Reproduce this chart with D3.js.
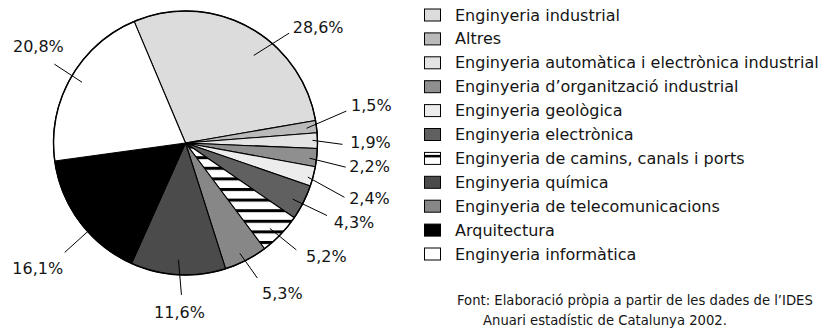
<!DOCTYPE html>
<html>
<head>
<meta charset="utf-8">
<script src="https://cdn.jsdelivr.net/npm/d3@7/dist/d3.min.js"></script>
<style>
  html, body { margin: 0; padding: 0; background: #fff; }
  svg { display: block; }
  text { font-family: "DejaVu Sans", sans-serif; fill: #151515; }
</style>
</head>
<body>
<svg id="chart" width="829" height="332"></svg>
<script>
// Titulats per estudis (percentatge sobre el total)
const categories = [
  "Enginyeria industrial",
  "Altres",
  "Enginyeria automàtica i electrònica industrial",
  "Enginyeria d’organització industrial",
  "Enginyeria geològica",
  "Enginyeria electrònica",
  "Enginyeria de camins, canals i ports",
  "Enginyeria química",
  "Enginyeria de telecomunicacions",
  "Arquitectura",
  "Enginyeria informàtica"
];
const shares = [28.6, 1.5, 1.9, 2.2, 2.4, 4.3, 5.2, 11.6, 5.3, 16.1, 20.8];
// order in which the slices run clockwise round the pie (indices into categories)
const sliceOrder = [0, 1, 2, 3, 4, 5, 6, 8, 7, 9, 10];
const sourceLines = [
  "Font: Elaboració pròpia a partir de les dades de l’IDES",
  "Anuari estadístic de Catalunya 2002."
];

// fills, one per category
const fills = ["#dcdcdc", "#bababa", "#e4e4e4", "#8f8f8f", "#ececec", "#606060",
               "url(#hatch)", "#4b4b4b", "#878787", "#000000", "#ffffff"];

// leader / label placement per category:
// inner & outer angle offsets from the slice middle (deg), radii, text offset from leader end
const labelLayout = [
  { dIn: 9.3,  rIn: 111, dOut: 14.7, rOut: 151, tx: 29,  ty: -5.5 },
  { dIn: 0.2,  rIn: 122, dOut: -4.1, rOut: 164, tx: 25,  ty: -6 },
  { dIn: -0.2, rIn: 127, dOut: 1.5,  rOut: 157, tx: 28,  ty: -2 },
  { dIn: 0.6,  rIn: 125, dOut: 2.2,  rOut: 162, tx: 24,  ty: -1 },
  { dIn: 0.9,  rIn: 127, dOut: 4.2,  rOut: 168, tx: 25,  ty: 1 },
  { dIn: 0.9,  rIn: 121, dOut: 0.4,  rOut: 159, tx: 27,  ty: 7 },
  { dIn: 1.5,  rIn: 120, dOut: 0.1,  rOut: 154, tx: 30,  ty: 7 },
  { dIn: 0.2,  rIn: 117, dOut: -1.7, rOut: 152, tx: -2,  ty: 18 },
  { dIn: 1.0,  rIn: 123, dOut: -0.8, rOut: 153, tx: 25,  ty: 15 },
  { dIn: -5.3, rIn: 120, dOut: -5.3, rOut: 163, tx: -27, ty: 16 },
  { dIn: 0.8,  rIn: 120, dOut: 1.4,  rOut: 153, tx: -16, ty: -18 }
];

const cx = 185.5, cy = 143, R = 132;
const startDeg = -22.9;
const rad = d => d * Math.PI / 180;

const locale = d3.formatLocale({ decimal: ",", thousands: ".", grouping: [3], currency: ["", " €"] });
const fmtPct = v => locale.format(".1f")(v) + "%";

const svg = d3.select("#chart");
const defs = svg.append("defs");

// horizontal stripes for "camins, canals i ports"
const period = 10.6, stripe = 3;
const hatch = defs.append("pattern")
  .attr("id", "hatch")
  .attr("patternUnits", "userSpaceOnUse")
  .attr("width", 20).attr("height", period)
  .attr("y", 2.6);
hatch.append("rect").attr("width", 20).attr("height", period).attr("fill", "#fff");
hatch.append("rect").attr("width", 20).attr("height", stripe).attr("fill", "#000");

const legendHatch = defs.append("pattern")
  .attr("id", "hatchLegend")
  .attr("patternUnits", "userSpaceOnUse")
  .attr("width", 20).attr("height", 40)
  .attr("y", 0);
legendHatch.append("rect").attr("width", 20).attr("height", 40).attr("fill", "#fff");

const pie = d3.pie()
  .sort(null)
  .value(i => shares[i])
  .startAngle(rad(startDeg))
  .endAngle(rad(startDeg) + 2 * Math.PI);

const arcs = pie(sliceOrder);
const arc = d3.arc().innerRadius(0).outerRadius(R);

const g = svg.append("g").attr("transform", `translate(${cx},${cy})`);

g.selectAll("path.slice")
  .data(arcs)
  .join("path")
  .attr("class", "slice")
  .attr("d", arc)
  .attr("fill", d => fills[d.data])
  .attr("stroke", "#000")
  .attr("stroke-width", 1.1)
  .attr("stroke-linejoin", "round");

g.append("circle")
  .attr("r", R)
  .attr("fill", "none")
  .attr("stroke", "#000")
  .attr("stroke-width", 1.4);

// leaders and value labels
const polar = (a, r) => [r * Math.sin(a), -r * Math.cos(a)];
const labels = g.append("g");
arcs.forEach(d => {
  const L = labelLayout[d.data];
  const mid = (d.startAngle + d.endAngle) / 2;
  const p0 = polar(mid + rad(L.dIn), L.rIn);
  const p1 = polar(mid + rad(L.dOut), L.rOut);
  labels.append("line")
    .attr("x1", p0[0]).attr("y1", p0[1])
    .attr("x2", p1[0]).attr("y2", p1[1])
    .attr("stroke", "#000").attr("stroke-width", 1);
  labels.append("text")
    .attr("x", p1[0] + L.tx).attr("y", p1[1] + L.ty)
    .attr("text-anchor", "middle")
    .attr("dominant-baseline", "central")
    .attr("font-size", 16)
    .text(fmtPct(shares[d.data]));
});

// legend
const legend = svg.append("g").attr("transform", "translate(424,15)");
const rowStep = 23.9;
const rows = legend.selectAll("g")
  .data(categories)
  .join("g")
  .attr("transform", (c, i) => `translate(0,${i * rowStep})`);

rows.append("rect")
  .attr("x", 0.5).attr("y", -6)
  .attr("width", 16).attr("height", 12)
  .attr("fill", (c, i) => fills[i] === "url(#hatch)" ? "#fff" : fills[i])
  .attr("stroke", "#000").attr("stroke-width", 1);

// stripe across the hatched swatch
rows.filter((c, i) => fills[i] === "url(#hatch)")
  .append("rect")
  .attr("x", 0.5).attr("y", -3.5)
  .attr("width", 16).attr("height", 2.5)
  .attr("fill", "#000");

rows.append("text")
  .attr("x", 31)
  .attr("y", 0)
  .attr("dominant-baseline", "central")
  .attr("font-size", 16)
  .text(c => c);

// source note
svg.append("g").selectAll("text")
  .data(sourceLines)
  .join("text")
  .attr("x", (t, i) => i === 0 ? 457 : 483)
  .attr("y", (t, i) => 305 + i * 20)
  .attr("font-size", 13.2)
  .text(t => t);
</script>
</body>
</html>
